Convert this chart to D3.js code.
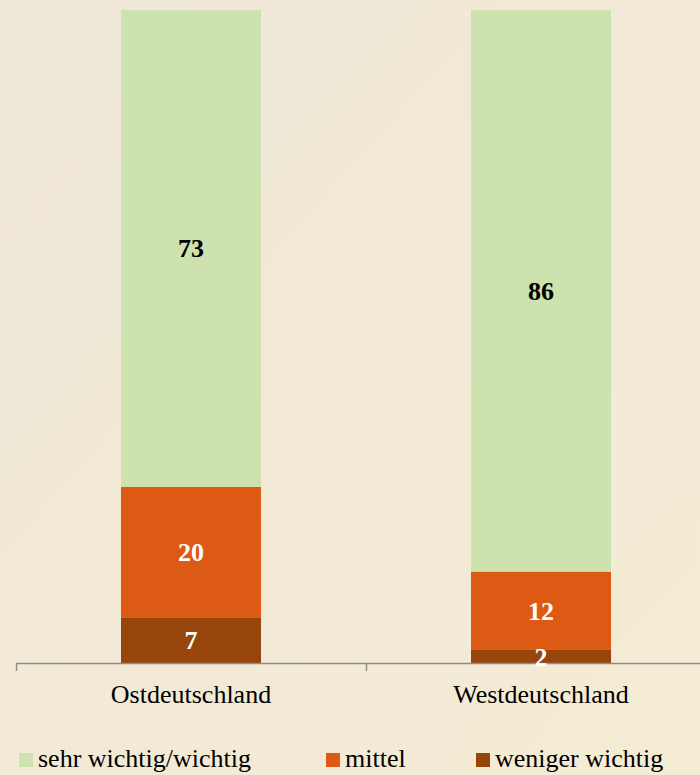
<!DOCTYPE html>
<html>
<head>
<meta charset="utf-8">
<script src="https://cdn.jsdelivr.net/npm/d3@7"></script>
<style>
  html, body { margin: 0; padding: 0; }
  svg { display: block; }
</style>
</head>
<body>
<svg id="chart" width="700" height="775"></svg>
<script>
// data
const regions = ["Ostdeutschland", "Westdeutschland"];
const seriesNames = ["weniger wichtig", "mittel", "sehr wichtig/wichtig"];
const wenigerWichtig = [7, 2];
const mittel = [20, 12];
const sehrWichtig = [73, 86];
const legendOrder = ["sehr wichtig/wichtig", "mittel", "weniger wichtig"];

const colors = {
    "sehr wichtig/wichtig": "#cde2ae",
    "mittel": "#dd5a14",
    "weniger wichtig": "#97450b"
};
const labelColors = {
    "sehr wichtig/wichtig": "#000",
    "mittel": "#fff",
    "weniger wichtig": "#fff"
};

const font = "'Liberation Serif', 'Times New Roman', serif";

const svg = d3.select("#chart");

// background gradient
const defs = svg.append("defs");
const grad = defs.append("linearGradient")
    .attr("id", "bg")
    .attr("x1", "0").attr("y1", "0")
    .attr("x2", "1").attr("y2", "1");
grad.append("stop").attr("offset", "0%").attr("stop-color", "#efe7d7");
grad.append("stop").attr("offset", "100%").attr("stop-color", "#f5ecd5");
svg.append("rect")
    .attr("width", 700).attr("height", 775)
    .attr("fill", "url(#bg)");

const table = regions.map(function (r, i) {
    return {
        region: r,
        "weniger wichtig": wenigerWichtig[i],
        "mittel": mittel[i],
        "sehr wichtig/wichtig": sehrWichtig[i]
    };
});

const x = d3.scaleBand()
    .domain(regions)
    .range([16, 716])
    .paddingInner(0.6)
    .paddingOuter(0.3);

const y = d3.scaleLinear()
    .domain([0, 100])
    .range([663, 10]);

const stacked = d3.stack().keys(seriesNames)(table);

const layers = svg.append("g").selectAll("g")
    .data(stacked)
    .enter()
    .append("g")
    .attr("fill", function (d) { return colors[d.key]; });

layers.selectAll("rect")
    .data(function (d) { return d; })
    .enter()
    .append("rect")
    .attr("x", function (d) { return x(d.data.region); })
    .attr("y", function (d) { return y(d[1]); })
    .attr("width", x.bandwidth())
    .attr("height", function (d) { return y(d[0]) - y(d[1]); });

// axis line and boundary ticks
const axisY = y(0);
svg.append("line")
    .attr("x1", 16).attr("x2", 716)
    .attr("y1", axisY + 0.5).attr("y2", axisY + 0.5)
    .attr("stroke", "#8c8c8c")
    .attr("stroke-width", 1.5);

const step = x.step();
const boundaries = [0, 1, 2].map(function (i) { return 16 + i * step; });
svg.append("g").selectAll("line")
    .data(boundaries)
    .enter()
    .append("line")
    .attr("x1", function (d) { return d + 0.5; })
    .attr("x2", function (d) { return d + 0.5; })
    .attr("y1", axisY)
    .attr("y2", axisY + 8)
    .attr("stroke", "#8c8c8c")
    .attr("stroke-width", 1.5);

// category labels
svg.append("g").selectAll("text")
    .data(regions)
    .enter()
    .append("text")
    .attr("x", function (d) { return x(d) + x.bandwidth() / 2; })
    .attr("y", 703)
    .attr("text-anchor", "middle")
    .attr("font-family", font)
    .attr("font-size", "26px")
    .attr("fill", "#000")
    .text(function (d) { return d; });

// value labels
stacked.forEach(function (layer) {
    svg.append("g").selectAll("text")
        .data(layer)
        .enter()
        .append("text")
        .attr("x", function (d) { return x(d.data.region) + x.bandwidth() / 2; })
        .attr("y", function (d) { return (y(d[0]) + y(d[1])) / 2; })
        .attr("dy", "0.35em")
        .attr("text-anchor", "middle")
        .attr("font-family", font)
        .attr("font-size", "26px")
        .attr("font-weight", "bold")
        .attr("fill", labelColors[layer.key])
        .text(function (d) { return d[1] - d[0]; });
});

// legend
const legendX = [19, 326, 476];
const legend = svg.append("g").selectAll("g")
    .data(legendOrder)
    .enter()
    .append("g")
    .attr("transform", function (d, i) { return "translate(" + legendX[i] + ",753)"; });

legend.append("rect")
    .attr("width", 14)
    .attr("height", 14)
    .attr("fill", function (d) { return colors[d]; });

legend.append("text")
    .attr("x", 19)
    .attr("y", 13.5)
    .attr("font-family", font)
    .attr("font-size", "26px")
    .attr("fill", "#000")
    .text(function (d) { return d; });
</script>
</body>
</html>
